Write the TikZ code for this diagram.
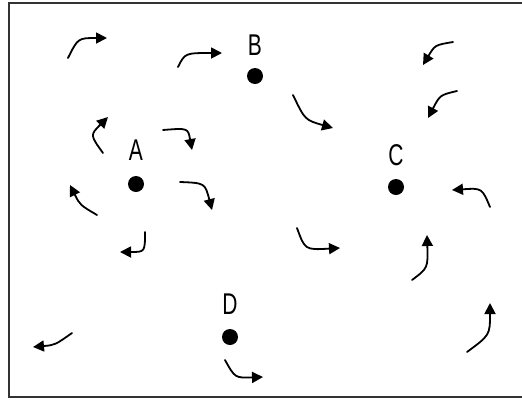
\documentclass[tikz,border=0pt]{standalone}
\usepackage{fontspec}
\usepackage{tikz}
\usetikzlibrary{arrows.meta,positioning}
\newfontfamily\lblfont[FakeStretch=0.7]{Liberation Sans}

\begin{document}
\begin{tikzpicture}[x=1pt,y=-1pt,>={Triangle[length=11pt,width=11pt]},
    line width=1.8pt,line cap=round,
    site/.style={circle,fill=black,inner sep=0pt,minimum width=14pt,minimum height=16pt},
    lbl/.style={inner sep=0pt,font=\lblfont\fontsize{30}{30}\selectfont},
    wind/.style={->}]
    \useasboundingbox (0,0) rectangle (522,400);
    \draw[line width=2.2pt,black!80] (9,3) rectangle (526,397);

    \node[site] (A) at (136,184) {};
    \node[site] (B) at (255,76)  {};
    \node[site] (C) at (396,187) {};
    \node[site] (D) at (230,337) {};
    \node[lbl,above=14pt of A] (lA) {A};
    \node[lbl,above=11pt of B] (lB) {B};
    \node[lbl,above=11pt of C] (lC) {C};
    \node[lbl,above=13pt of D] (lD) {D};

    % wind arrows
    \draw[wind] (68,58)   .. controls (78,38)   .. (107,38);
    \draw[wind] (178,67)  .. controls (185,53)  .. (222,53);
    \draw[wind] (103,153) .. controls (90,135)  .. (108,117);
    \draw[wind] (163,130) .. controls (188,128) .. (192,150);
    \draw[wind] (97,215)  .. controls (80,205)  .. (70,185);
    \draw[wind] (180,182) .. controls (205,183) .. (212,210);
    \draw[wind] (145,232) .. controls (145,252) .. (120,252);
    \draw[wind] (293,95)  .. controls (305,120) .. (333,128);
    \draw[wind] (453,42)  .. controls (435,45)  .. (423,65);
    \draw[wind] (457,91)  .. controls (440,95)  .. (428,118);
    \draw[wind] (490,207) .. controls (482,188) .. (452,190);
    \draw[wind] (297,228) .. controls (305,250) .. (340,248);
    \draw[wind] (412,280) .. controls (428,268) .. (427,235);
    \draw[wind] (467,352) .. controls (490,335) .. (490,303);
    \draw[wind] (72,333)  .. controls (55,345)  .. (33,347);
    \draw[wind] (225,360) .. controls (235,378) .. (263,377);
\end{tikzpicture}
\end{document}
